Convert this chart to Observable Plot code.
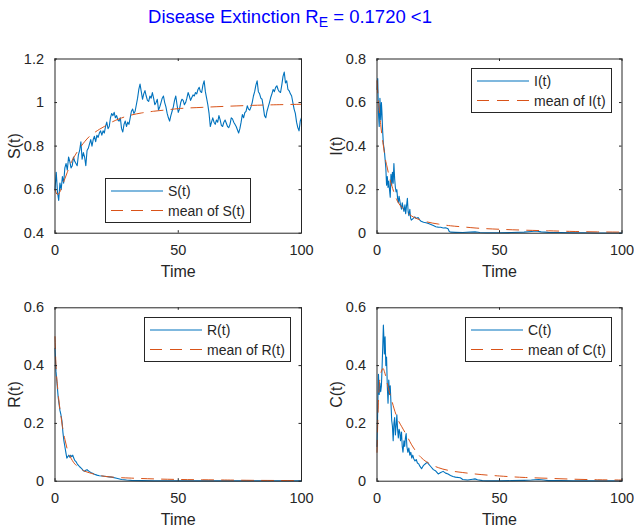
<!DOCTYPE html>
<html><head><meta charset="utf-8">
<script src="https://cdn.jsdelivr.net/npm/d3@7"></script>
<script src="https://cdn.jsdelivr.net/npm/@observablehq/plot@0.6"></script>
<style>
html,body{margin:0;padding:0;background:#fff;overflow:hidden;}
#fig{position:relative;width:634px;height:531px;font-family:"Liberation Sans",Arial,Helvetica,sans-serif;color:#262626;overflow:hidden;background:#fff;}
#title{position:absolute;left:0;width:580px;top:6px;text-align:center;color:#0000ff;font-size:18.5px;line-height:22px;white-space:nowrap;}
#title sub{font-size:14px;position:relative;top:4px;vertical-align:baseline;}
.panel{position:absolute;}
.legend{position:absolute;background:#fff;border:1px solid #262626;box-sizing:border-box;}
</style></head><body><div id="fig"><div id="title">Disease Extinction R<sub>E</sub> = 0.1720 &lt;1</div></div>
<script>
// ---------- data ----------
const xTicks = [0, 50, 100];
const yTicksS = [0.4, 0.6, 0.8, 1, 1.2];
const yTicksI = [0, 0.2, 0.4, 0.6, 0.8];
const yTicksR = [0, 0.2, 0.4, 0.6];
const yTicksC = [0, 0.2, 0.4, 0.6];
const xLabel = "Time";
const yLabels = ["S(t)", "I(t)", "R(t)", "C(t)"];
const seriesNames = ["S(t)", "I(t)", "R(t)", "C(t)"];
const meanNames = ["mean of S(t)", "mean of I(t)", "mean of R(t)", "mean of C(t)"];

// S(t), sampled every 0.5 time units from t = 0 to 100
const S_step = 0.5;
const S = [
0.60,0.68,0.59,0.55,0.63,0.60,0.66,0.63,0.70,0.72,
0.69,0.75,0.73,0.70,0.71,0.75,0.73,0.72,0.71,0.76,
0.78,0.82,0.74,0.77,0.75,0.71,0.78,0.79,0.81,0.83,
0.80,0.83,0.845,0.82,0.85,0.84,0.86,0.87,0.85,0.87,
0.86,0.89,0.91,0.88,0.89,0.93,0.95,0.94,0.955,0.93,
0.94,0.92,0.915,0.93,0.88,0.865,0.90,0.915,0.89,0.91,
0.90,0.93,0.96,0.97,0.95,0.96,0.99,1.02,1.06,1.085,
1.05,1.015,1.04,1.055,1.03,1.01,1.005,1.03,1.02,1.046,
1.02,0.99,1.00,1.015,0.965,0.98,1.00,1.02,1.03,1.00,
0.98,0.95,0.93,0.915,0.94,0.96,0.98,1.01,1.03,0.99,
0.955,0.97,1.00,1.015,1.01,0.99,1.00,1.02,1.046,1.03,
1.01,1.023,1.035,1.03,1.046,1.04,1.06,1.07,1.05,1.046,
1.08,1.10,1.05,1.02,0.99,0.95,0.89,0.91,0.93,0.91,
0.90,0.92,0.91,0.94,0.92,0.895,0.89,0.91,0.92,0.905,
0.89,0.885,0.90,0.93,0.925,0.91,0.90,0.89,0.875,0.86,
0.88,0.91,0.945,0.93,0.954,0.96,0.985,0.97,0.965,0.98,
1.00,1.03,1.05,1.08,1.10,1.05,1.04,1.02,1.015,0.98,
0.94,0.93,0.96,0.98,1.00,1.023,1.04,1.06,1.05,1.07,
1.077,1.06,1.05,1.046,1.08,1.12,1.14,1.09,1.10,1.06,
1.054,1.04,1.03,1.00,0.97,0.95,0.91,0.885,0.87,0.915,
0.93
];
const tMeanS = [0,1,2,3,4,5,6,7,8,10,12,14,16,18,20,23,26,30,35,40,45,50,60,70,80,90,100];
const meanS  = [0.60,0.578,0.59,0.62,0.65,0.68,0.71,0.735,0.755,0.79,0.82,0.845,0.862,0.877,0.89,0.91,0.925,0.94,0.952,0.96,0.966,0.972,0.978,0.983,0.987,0.99,0.992];

const tI = [0,0.3,0.6,0.9,1.2,1.5,1.8,2.0,2.3,2.6,3.0,3.3,3.6,3.9,4.2,4.5,4.8,5.1,5.4,5.7,6.0,6.3,6.6,6.9,7.2,7.5,7.8,8.1,8.4,8.7,9.0,9.3,9.6,10.0,10.3,10.6,11.0,11.4,11.7,12.0,12.4,12.7,13.0,13.4,13.7,14.0,14.5,15.0,15.4,16.0,16.8,17.5,18,19,20,21,22,23,24,25,26,27,28,29,29.5,30,32,35,38,40,42,45,50,55,60,63,65,67,70,75,80,85,90,95,100];
const I  = [0.66,0.71,0.55,0.49,0.62,0.52,0.60,0.56,0.47,0.41,0.38,0.34,0.30,0.22,0.26,0.21,0.24,0.20,0.165,0.27,0.22,0.28,0.23,0.32,0.25,0.21,0.19,0.20,0.16,0.14,0.17,0.15,0.13,0.11,0.14,0.12,0.10,0.13,0.09,0.12,0.16,0.10,0.08,0.11,0.07,0.06,0.065,0.07,0.075,0.068,0.072,0.06,0.055,0.05,0.048,0.045,0.04,0.035,0.03,0.028,0.027,0.024,0.025,0.02,0.008,0.005,0.004,0.003,0.005,0.006,0.003,0.002,0.002,0.003,0.005,0.008,0.01,0.006,0.004,0.003,0.002,0.002,0.001,0.001,0.001];
const tMeanI = [0,0.5,1,1.5,2,2.5,3,3.5,4,5,6,7,8,9,10,12,14,16,18,20,25,30,35,40,50,60,70,80,90,100];
const meanI  = [0.70,0.62,0.56,0.50,0.45,0.41,0.37,0.335,0.31,0.26,0.22,0.185,0.155,0.135,0.12,0.10,0.08,0.068,0.06,0.053,0.042,0.034,0.029,0.024,0.018,0.014,0.011,0.008,0.006,0.005];

const tR = [0,0.2,0.4,0.7,1.0,1.3,1.6,2.0,2.4,2.8,3.2,3.6,4.0,4.4,4.8,5.2,5.6,6.0,6.4,6.8,7.2,7.6,8.0,8.5,9.0,9.5,10,10.5,11,11.5,12,12.5,13,13.5,14,15,16,17,18,19,20,22,23,25,27,29,31,35,40,50,60,70,80,100];
const R  = [0.46,0.42,0.38,0.35,0.32,0.29,0.27,0.245,0.23,0.21,0.17,0.14,0.12,0.10,0.08,0.085,0.09,0.083,0.09,0.085,0.09,0.08,0.072,0.068,0.06,0.055,0.05,0.046,0.042,0.036,0.034,0.038,0.04,0.036,0.033,0.028,0.024,0.021,0.019,0.018,0.017,0.015,0.014,0.010,0.006,0.004,0.003,0.002,0.001,0.001,0.001,0.001,0.001,0.001];
const tMeanR = [0,0.3,0.6,1,1.5,2,2.5,3,3.5,4,5,6,7,8,9,10,12,14,16,18,20,25,30,40,50,60,70,80,90,100];
const meanR  = [0.50,0.42,0.37,0.33,0.285,0.25,0.22,0.19,0.165,0.145,0.11,0.088,0.072,0.06,0.052,0.045,0.035,0.029,0.024,0.02,0.017,0.013,0.011,0.008,0.006,0.005,0.004,0.003,0.0025,0.002];

const tC = [0,0.3,0.6,0.9,1.2,1.5,1.8,2.1,2.4,2.6,2.8,3.0,3.3,3.6,3.9,4.2,4.5,4.8,5.1,5.4,5.7,6.0,6.3,6.6,6.9,7.2,7.5,7.8,8.1,8.4,8.7,9.0,9.3,9.6,10.0,10.3,10.6,11.0,11.3,11.6,11.9,12.2,12.6,13.0,13.4,13.8,14.2,14.6,15,15.5,16,16.5,17,17.5,18.2,19,20,20.5,21,22,23,24,25,26,27,28,29,30,31,32,34,35,37,39,40,41,43,45,50,55,60,63,66,68,70,75,80,90,100];
const C  = [0.12,0.25,0.37,0.30,0.34,0.31,0.33,0.40,0.48,0.54,0.50,0.44,0.50,0.40,0.43,0.33,0.27,0.35,0.30,0.33,0.27,0.21,0.19,0.14,0.20,0.22,0.16,0.19,0.23,0.18,0.15,0.18,0.17,0.14,0.17,0.12,0.10,0.14,0.12,0.15,0.165,0.12,0.10,0.115,0.09,0.10,0.08,0.09,0.078,0.07,0.075,0.063,0.06,0.052,0.043,0.055,0.062,0.066,0.06,0.05,0.04,0.035,0.025,0.03,0.034,0.028,0.025,0.02,0.016,0.014,0.012,0.006,0.004,0.007,0.008,0.005,0.002,0.001,0.001,0.002,0.003,0.004,0.006,0.004,0.002,0.002,0.001,0.001,0.001];
const tMeanC = [0,0.3,0.6,1.0,1.5,2.0,2.5,3,3.5,4,5,6,7,8,9,10,12,14,16,18,20,22,25,30,35,40,50,60,70,80,90,100];
const meanC  = [0.10,0.20,0.28,0.34,0.37,0.385,0.39,0.38,0.365,0.345,0.31,0.28,0.25,0.225,0.205,0.19,0.16,0.128,0.102,0.082,0.068,0.058,0.047,0.036,0.03,0.025,0.018,0.013,0.01,0.007,0.005,0.004];

// ---------- style ----------
const BLUE = "#0072BD", ORANGE = "#D95319", AX = "#262626";
const FONT = '"Liberation Sans", Arial, Helvetica, sans-serif';
const fig = document.getElementById("fig");

function rows(t, v) { return t.map((x, i) => ({t: x, v: v[i]})); }

function panel(cfg) {
  const {sx, sy, w, h, f, data, mean, yDomain, yTicks, yLabel, name, meanName, legend} = cfg;
  const pw = f.r - f.l, ph = f.b - f.t;
  const svg = Plot.plot({
    width: w, height: h,
    marginLeft: f.l - sx, marginRight: sx + w - f.r,
    marginTop: f.t - sy, marginBottom: sy + h - f.b,
    x: {domain: [0, 100]},
    y: {domain: yDomain},
    style: {fontSize: "14.5px", fontFamily: FONT, color: AX, background: "transparent", overflow: "visible"},
    marks: [
      Plot.line(data, {x: "t", y: "v", stroke: BLUE, strokeWidth: 1.1}),
      Plot.line(mean, {x: "t", y: "v", stroke: ORANGE, strokeWidth: 1, strokeDasharray: "12,8", curve: "monotone-x"}),
      Plot.frame({stroke: AX, strokeWidth: 1}),
      Plot.tickX(xTicks, {x: d => d, stroke: AX, insetTop: ph - 2.5}),
      Plot.tickX(xTicks, {x: d => d, stroke: AX, insetBottom: ph - 2.5}),
      Plot.tickY(yTicks, {y: d => d, stroke: AX, insetRight: pw - 2.5}),
      Plot.tickY(yTicks, {y: d => d, stroke: AX, insetLeft: pw - 2.5}),
      Plot.axisX({ticks: xTicks, tickSize: 0, tickPadding: 12, label: null, tickFormat: d => String(d), fill: AX}),
      Plot.axisY({ticks: yTicks, tickSize: 0, tickPadding: 11, label: null, tickFormat: d => String(d), fill: AX}),
      Plot.text([xLabel], {frameAnchor: "bottom", dy: 44, lineAnchor: "bottom", fontSize: 16, fill: AX}),
      Plot.text([yLabel], {frameAnchor: "left", dx: -40.5, rotate: -90, lineAnchor: "middle", textAnchor: "middle", fontSize: 16, fill: AX})
    ]
  });
  svg.classList.add("panel");
  svg.style.left = sx + "px";
  svg.style.top = sy + "px";
  fig.appendChild(svg);

  // legend box (MATLAB-style)
  const lw = legend.w, lh = 45;
  let lx, ly;
  if (legend.pos === "south") { lx = (f.l + f.r) / 2 - lw / 2; ly = f.b - 10 - lh; }
  else { lx = f.r - 10 - lw; ly = f.t + 9.5; }
  const div = document.createElement("div");
  div.className = "legend";
  div.style.left = lx + "px"; div.style.top = ly + "px";
  div.style.width = lw + "px"; div.style.height = lh + "px";
  const ns = "http://www.w3.org/2000/svg";
  const ls = document.createElementNS(ns, "svg");
  ls.setAttribute("width", lw - 2); ls.setAttribute("height", lh - 2);
  ls.style.display = "block";
  const entries = [[name, BLUE, null, 12], [meanName, ORANGE, "12,8", 31.5]];
  for (const [label, color, dash, yy] of entries) {
    const ln = document.createElementNS(ns, "line");
    ln.setAttribute("x1", 5); ln.setAttribute("x2", 57);
    ln.setAttribute("y1", yy); ln.setAttribute("y2", yy);
    ln.setAttribute("stroke", color); ln.setAttribute("stroke-width", 1.1);
    if (dash) ln.setAttribute("stroke-dasharray", dash);
    ls.appendChild(ln);
    const tx = document.createElementNS(ns, "text");
    tx.setAttribute("x", 62); tx.setAttribute("y", yy + 5);
    tx.setAttribute("font-size", "14px"); tx.setAttribute("font-family", FONT);
    tx.setAttribute("fill", AX);
    tx.textContent = label;
    ls.appendChild(tx);
  }
  div.appendChild(ls);
  fig.appendChild(div);
}

const fTop = 58.5, fBot = 232.7, fTop2 = 307.3, fBot2 = 480.7;
const fL1 = 54.5, fR1 = 301, fL2 = 376.5, fR2 = 621.5;

panel({sx: 0, sy: 40, w: 317, h: 250, f: {l: fL1, r: fR1, t: fTop, b: fBot},
  data: rows(S.map((_, i) => i * S_step), S), mean: rows(tMeanS, meanS),
  yDomain: [0.4, 1.2], yTicks: yTicksS, yLabel: yLabels[0], name: seriesNames[0], meanName: meanNames[0],
  legend: {pos: "south", w: 146}});
panel({sx: 317, sy: 40, w: 317, h: 250, f: {l: fL2, r: fR2, t: fTop, b: fBot},
  data: rows(tI, I), mean: rows(tMeanI, meanI),
  yDomain: [0, 0.8], yTicks: yTicksI, yLabel: yLabels[1], name: seriesNames[1], meanName: meanNames[1],
  legend: {pos: "northeast", w: 141}});
panel({sx: 0, sy: 290, w: 317, h: 241, f: {l: fL1, r: fR1, t: fTop2, b: fBot2},
  data: rows(tR, R), mean: rows(tMeanR, meanR),
  yDomain: [0, 0.6], yTicks: yTicksR, yLabel: yLabels[2], name: seriesNames[2], meanName: meanNames[2],
  legend: {pos: "northeast", w: 147}});
panel({sx: 317, sy: 290, w: 317, h: 241, f: {l: fL2, r: fR2, t: fTop2, b: fBot2},
  data: rows(tC, C), mean: rows(tMeanC, meanC),
  yDomain: [0, 0.6], yTicks: yTicksC, yLabel: yLabels[3], name: seriesNames[3], meanName: meanNames[3],
  legend: {pos: "northeast", w: 147}});
</script></body></html>
